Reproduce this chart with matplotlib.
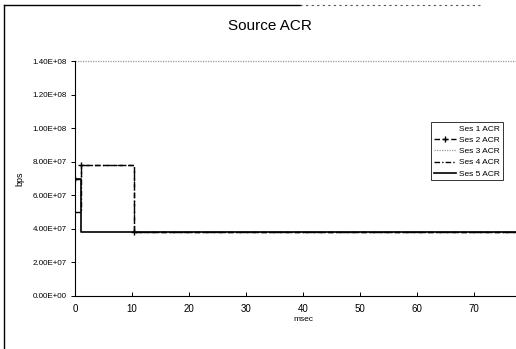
import matplotlib.pyplot as plt
from matplotlib.lines import Line2D
from matplotlib.ticker import FuncFormatter

plt.rcParams['font.family'] = ['Liberation Sans', 'DejaVu Sans']

# step data: time of each change (msec) and rate from that time (bps)
ses1_t = [0, 1, 80]
ses1_v = [7.0e7, 3.8e7, 3.8e7]
ses2_t = [0, 1, 10.4, 80]
ses2_v = [7.0e7, 7.8e7, 3.8e7, 3.8e7]
ses3_t = [0, 80]
ses3_v = [1.4e8, 1.4e8]
ses4_t = [0, 1, 10.4, 80]
ses4_v = [5.0e7, 7.8e7, 3.8e7, 3.8e7]
ses5_t = [0, 1, 80]
ses5_v = [7.0e7, 3.8e7, 3.8e7]

labels = ["Ses 1 ACR", "Ses 2 ACR", "Ses 3 ACR", "Ses 4 ACR", "Ses 5 ACR"]
y_ticks = [0, 2e7, 4e7, 6e7, 8e7, 1e8, 1.2e8, 1.4e8]
x_ticks = [0, 10, 20, 30, 40, 50, 60, 70]

fig = plt.figure(figsize=(5.16, 3.49), dpi=100)
ax = fig.add_axes([75 / 516, 53 / 349, 456 / 516, 235 / 349])

ax.step(ses1_t, ses1_v, where="post", color="white", lw=1.0, label=labels[0])
ax.step(ses2_t, ses2_v, where="post", color="black", lw=1.0, ls=(0, (4, 2)),
        marker="+", ms=4, label=labels[1])
ax.step(ses3_t, ses3_v, where="post", color="#999999", lw=0.9, ls=(0, (1, 1)),
        label=labels[2], clip_on=False)
ax.step(ses4_t, ses4_v, where="post", color="black", lw=1.0, ls=(0, (4, 1.5, 1, 1.5)),
        label=labels[3])
ax.step(ses5_t, ses5_v, where="post", color="black", lw=1.2, label=labels[4])

ax.set_xlim(0, 80)
ax.set_ylim(0, 1.4e8)
ax.set_xticks(x_ticks)
ax.set_yticks(y_ticks)
ax.yaxis.set_major_formatter(FuncFormatter(lambda v, p: f"{v:.2E}"))
ax.tick_params(axis="y", direction="out", length=3, width=0.7, labelsize=5.8, pad=3)
ax.tick_params(axis="x", direction="in", length=3, width=0.7, labelsize=7, pad=6)
for s in ["top", "right"]:
    ax.spines[s].set_visible(False)
for s in ["left", "bottom"]:
    ax.spines[s].set_linewidth(0.8)

ax.set_xlabel("msec", fontsize=6, labelpad=1)
ax.set_ylabel("bps", fontsize=6.5, labelpad=6)

fig.text(270 / 516, 1 - 26 / 349, "Source ACR", ha="center", va="center", fontsize=11)

leg = fig.legend(loc="upper left", bbox_to_anchor=(427 / 516, 1 - 118 / 349),
                 fontsize=6, frameon=True, fancybox=False, handlelength=2.6,
                 borderpad=0.35, labelspacing=0.4, handletextpad=0.4,
                 markerfirst=True)
leg.get_frame().set_edgecolor("black")
leg.get_frame().set_linewidth(0.7)

# chart border as in the original page
fig.add_artist(Line2D([4 / 516, 4 / 516], [0, 1 - 5 / 349], color="black", lw=1.0,
                      transform=fig.transFigure))
fig.add_artist(Line2D([4 / 516, 300 / 516], [1 - 5 / 349, 1 - 5 / 349], color="black",
                      lw=1.0, transform=fig.transFigure))
fig.add_artist(Line2D([300 / 516, 480 / 516], [1 - 5 / 349, 1 - 5 / 349], color="#555555",
                      lw=0.8, ls=(0, (2, 3)), transform=fig.transFigure))

fig.savefig("out.png", dpi=100)
